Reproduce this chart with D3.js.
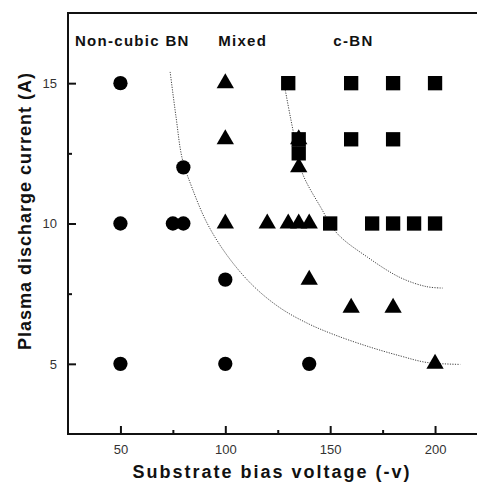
<!DOCTYPE html>
<html>
<head>
<meta charset="utf-8">
<script src="https://cdn.jsdelivr.net/npm/d3@7"></script>
<style>
    body { margin: 0; background: #fff; }
    svg { display: block; }
    .tick-label { font-family: "Liberation Sans", Arial, sans-serif; font-size: 13px; fill: #333; }
    .axis-title { font-family: "Liberation Sans", Arial, sans-serif; font-size: 18px; font-weight: bold; fill: #111; }
    .region-label { font-family: "Liberation Sans", Arial, sans-serif; font-size: 15px; font-weight: bold; fill: #111; letter-spacing: 1.3px; }
</style>
</head>
<body>
<div id="phaseVis"></div>
<script>
// data: [bias voltage (-V), discharge current (A)]
const nonCubicBN = [[50, 15], [50, 10], [75, 10], [80, 10], [80, 12], [100, 8], [50, 5], [100, 5], [140, 5]];
const mixedBN = [[100, 15], [100, 13], [135, 13], [135, 12], [100, 10], [120, 10], [130, 10], [135, 10], [140, 10],
    [140, 8], [160, 7], [180, 7], [200, 5]];
const cubicBN = [[130, 15], [160, 15], [180, 15], [200, 15], [160, 13], [180, 13], [135, 13], [135, 12.5],
    [150, 10], [170, 10], [180, 10], [190, 10], [200, 10]];

// dotted phase boundaries
const boundaryLow = [[73.7, 15.4], [76.5, 13.8], [79.5, 12.3], [84, 11.3], [91.4, 10.0], [101, 8.85], [113, 7.8],
    [126, 7.0], [139, 6.45], [151.5, 6.05], [168, 5.62], [183.5, 5.28], [196, 5.05], [212, 4.98]];
const boundaryHigh = [[128.6, 14.75], [131, 13.8], [134, 12.7], [136.7, 11.8], [145.3, 10.6], [153.4, 9.64],
    [167.8, 8.8], [183.5, 8.07], [196, 7.75], [203.6, 7.7]];

const xMajor = [50, 100, 150, 200];
const xMinor = [75, 125, 175];
const yMajor = [5, 10, 15];
const yMinor = [7.5, 12.5];

const regionLabels = [
    {text: "Non-cubic BN", v: 28.3},
    {text: "Mixed", v: 96.6},
    {text: "c-BN", v: 151.5}
];

class PhaseVis {
    constructor(parentElement) {
        this.parentElement = parentElement;
        this.initVis();
    }

    initVis() {
        let vis = this;

        vis.margin = {top: 13, right: 0, bottom: 49, left: 68};
        vis.width = 477 - vis.margin.left - vis.margin.right;
        vis.height = 483 - vis.margin.top - vis.margin.bottom;

        vis.svg = d3.select("#" + vis.parentElement)
            .append("svg")
            .attr("width", 477)
            .attr("height", 483)
            .append("g")
            .attr("transform", "translate(" + vis.margin.left + "," + vis.margin.top + ")");

        vis.x = d3.scaleLinear().domain([25, 220]).range([0, vis.width]);
        vis.y = d3.scaleLinear().domain([2.5, 17.5]).range([vis.height, 0]);

        // axes, ticks pointing inside
        vis.svg.append("g")
            .attr("transform", "translate(0," + vis.height + ")")
            .call(d3.axisBottom(vis.x).tickValues(xMajor).tickSize(-8).tickPadding(11));
        vis.svg.append("g")
            .attr("transform", "translate(0," + vis.height + ")")
            .call(d3.axisBottom(vis.x).tickValues(xMinor).tickSize(-4).tickFormat(""));
        vis.svg.append("g")
            .call(d3.axisLeft(vis.y).tickValues(yMajor).tickSize(-8).tickPadding(11));
        vis.svg.append("g")
            .call(d3.axisLeft(vis.y).tickValues(yMinor).tickSize(-4).tickFormat(""));

        vis.svg.selectAll(".domain").remove();
        vis.svg.selectAll(".tick line").attr("stroke", "#111").attr("stroke-width", 2);
        vis.svg.selectAll(".tick text").attr("class", "tick-label");

        // frame: left, bottom, top
        vis.svg.append("path")
            .attr("d", "M" + vis.width + ",0H0V" + vis.height + "H" + vis.width)
            .attr("fill", "none")
            .attr("stroke", "#111")
            .attr("stroke-width", 2);

        // titles
        vis.svg.append("text")
            .attr("class", "axis-title")
            .attr("text-anchor", "middle")
            .attr("x", 272 - vis.margin.left)
            .attr("y", 478 - vis.margin.top)
            .style("letter-spacing", "2px")
            .text("Substrate bias voltage (-v)");
        vis.svg.append("text")
            .attr("class", "axis-title")
            .attr("text-anchor", "middle")
            .attr("transform", "translate(" + (31 - vis.margin.left) + "," + (211 - vis.margin.top) + ") rotate(-90)")
            .style("letter-spacing", "1px")
            .text("Plasma discharge current (A)");

        vis.svg.selectAll(".region-label")
            .data(regionLabels)
            .enter()
            .append("text")
            .attr("class", "region-label")
            .attr("x", d => vis.x(d.v))
            .attr("y", 46 - vis.margin.top)
            .text(d => d.text);

        // boundaries
        let line = d3.line()
            .x(d => vis.x(d[0]))
            .y(d => vis.y(d[1]))
            .curve(d3.curveCatmullRom.alpha(0.5));
        vis.svg.selectAll(".boundary")
            .data([boundaryLow, boundaryHigh])
            .enter()
            .append("path")
            .attr("class", "boundary")
            .attr("d", line)
            .attr("fill", "none")
            .attr("stroke", "#444")
            .attr("stroke-width", 1)
            .attr("stroke-dasharray", "1.2,1.3");

        vis.drawMarkers(nonCubicBN, d3.symbolCircle, 160);
        vis.drawMarkers(mixedBN, d3.symbolTriangle, 130);
        vis.drawMarkers(cubicBN, d3.symbolSquare, 205);
    }

    drawMarkers(data, shape, size) {
        let vis = this;
        vis.svg.append("g")
            .selectAll("path")
            .data(data)
            .enter()
            .append("path")
            .attr("transform", d => "translate(" + vis.x(d[0]) + "," + vis.y(d[1]) + ")")
            .attr("d", d3.symbol().type(shape).size(size))
            .attr("fill", "#000");
    }
}

new PhaseVis("phaseVis");
</script>
</body>
</html>
